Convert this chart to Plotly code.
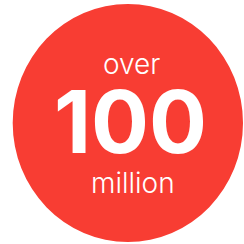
import plotly.graph_objects as go

labels = ["over", "100", "million"]
label_sizes = [28, 86, 28]
label_weights = [300, 700, 300]
label_y_px = [64, 122, 183]
label_x_px = [131, 130, 133]
label_box_h = [30, 70, 30]

circle_color = "#F83D33"
W = H = 244

fig = go.Figure()
fig.add_shape(type="circle", xref="paper", yref="paper",
              x0=12.7 / W, x1=243 / W, y0=1 - 242 / H, y1=1 - 4 / H,
              fillcolor=circle_color, line=dict(width=0), layer="below")

for t, s, w, yp, xp, bh in zip(labels, label_sizes, label_weights, label_y_px, label_x_px, label_box_h):
    fig.add_annotation(text=t, x=xp / W, y=1 - yp / H, xref="paper", yref="paper",
                       showarrow=False, xanchor="center", yanchor="middle",
                       height=bh, valign="middle",
                       font=dict(family="Inter", size=s, color="white", weight=w))

fig.update_layout(width=W, height=H, margin=dict(l=0, r=0, t=0, b=0),
                  paper_bgcolor="white", plot_bgcolor="white",
                  xaxis=dict(visible=False), yaxis=dict(visible=False),
                  showlegend=False)
fig.write_html("out.html", config={"displayModeBar": False},
               post_script="document.body.style.margin='0';document.body.style.overflow='hidden';")
